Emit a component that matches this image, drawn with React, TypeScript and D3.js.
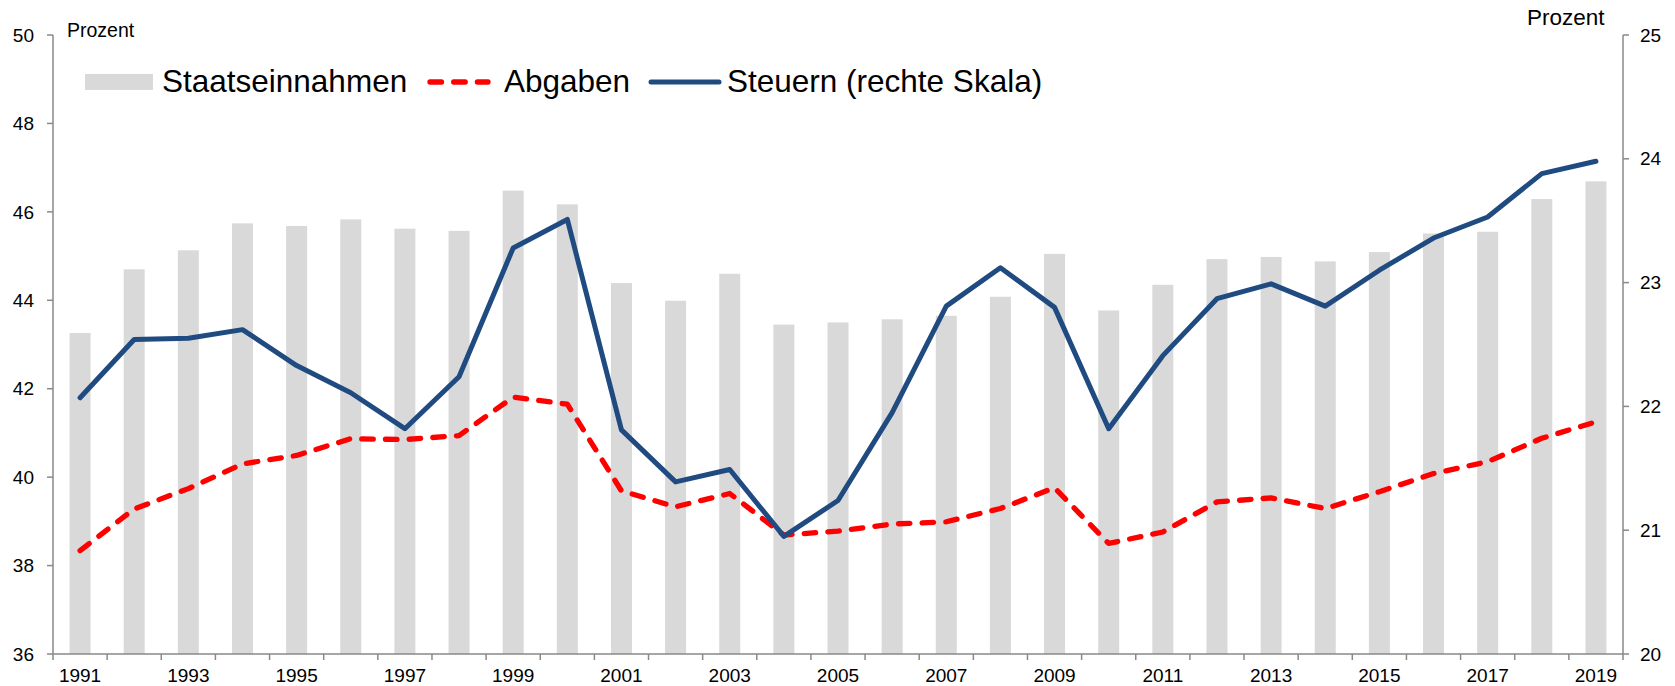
import React from "react";
import * as d3 from "d3";

const years = [
  "1991","1992","1993","1994","1995","1996","1997","1998","1999","2000",
  "2001","2002","2003","2004","2005","2006","2007","2008","2009","2010",
  "2011","2012","2013","2014","2015","2016","2017","2018","2019",
];
const staatseinnahmen = [43.26, 44.70, 45.13, 45.74, 45.68, 45.83, 45.62, 45.57, 46.48, 46.17, 44.39, 43.99, 44.60, 43.45, 43.50, 43.57, 43.65, 44.08, 45.05, 43.77, 44.35, 44.93, 44.98, 44.88, 45.09, 45.51, 45.55, 46.29, 46.69];
const abgaben = [38.34, 39.28, 39.74, 40.30, 40.49, 40.87, 40.85, 40.94, 41.81, 41.65, 39.69, 39.33, 39.63, 38.69, 38.78, 38.94, 38.99, 39.29, 39.76, 38.50, 38.76, 39.44, 39.53, 39.29, 39.67, 40.08, 40.35, 40.88, 41.25];
const steuern = [22.07, 22.54, 22.55, 22.62, 22.33, 22.11, 21.82, 22.24, 23.28, 23.51, 21.81, 21.39, 21.49, 20.95, 21.24, 21.95, 22.81, 23.12, 22.80, 21.82, 22.41, 22.87, 22.99, 22.81, 23.10, 23.36, 23.53, 23.88, 23.98];
const leftTicks = [36, 38, 40, 42, 44, 46, 48, 50];
const rightTicks = [20, 21, 22, 23, 24, 25];
const legendLabels = ["Staatseinnahmen", "Abgaben", "Steuern (rechte Skala)"];
const unitLabel = "Prozent";

const W = 1675, H = 686;
const X0 = 53, X1 = 1623, Y0 = 35, Y1 = 654;
const FONT = "'Liberation Sans', Arial, sans-serif";
const GRAY = "#D9D9D9";
const RED = "#FF0000";
const BLUE = "#1F4B80";
const AXIS = "#898989";

export default function App() {
  const x = d3.scaleBand<string>().domain(years).range([X0, X1]).paddingInner(0).paddingOuter(0);
  const yL = d3.scaleLinear().domain([36, 50]).range([Y1, Y0]);
  const yR = d3.scaleLinear().domain([20, 25]).range([Y1, Y0]);
  const bw = 21;
  const cx = (i: number) => (x(years[i]) as number) + x.bandwidth() / 2;

  const redLine = d3.line<number>().x((_, i) => cx(i)).y((d) => yL(d))(abgaben) as string;
  const blueLine = d3.line<number>().x((_, i) => cx(i)).y((d) => yR(d))(steuern) as string;

  const boundaries = years.map((y) => x(y) as number).concat([X1]);

  return (
    <svg width={W} height={H} style={{ position: "absolute", left: 0, top: 0, background: "#fff" }} fontFamily={FONT}>
      {/* bars */}
      {staatseinnahmen.map((v, i) => (
        <rect key={i} x={cx(i) - bw / 2} y={yL(v)} width={bw} height={yL(36) - yL(v)} fill={GRAY} />
      ))}
      {/* lines */}
      <path d={redLine} fill="none" stroke={RED} strokeWidth={5.3} strokeDasharray="11.5 12.2" strokeLinecap="round" strokeLinejoin="round" />
      <path d={blueLine} fill="none" stroke={BLUE} strokeWidth={5} strokeLinecap="round" strokeLinejoin="round" />

      {/* left axis */}
      <line x1={X0} x2={X0} y1={Y0} y2={Y1} stroke={AXIS} strokeWidth={1.5} />
      {leftTicks.map((t) => (
        <g key={t}>
          <line x1={X0 - 6} x2={X0} y1={yL(t)} y2={yL(t)} stroke={AXIS} strokeWidth={1.5} />
          <text x={34} y={yL(t)} dy="0.35em" textAnchor="end" fontSize={19} fill="#000">{t}</text>
        </g>
      ))}
      {/* right axis */}
      <line x1={X1} x2={X1} y1={Y0} y2={Y1} stroke={AXIS} strokeWidth={1.5} />
      {rightTicks.map((t) => (
        <g key={t}>
          <line x1={X1} x2={X1 + 6} y1={yR(t)} y2={yR(t)} stroke={AXIS} strokeWidth={1.5} />
          <text x={1640} y={yR(t)} dy="0.35em" textAnchor="start" fontSize={19} fill="#000">{t}</text>
        </g>
      ))}
      {/* x axis */}
      <line x1={X0} x2={X1} y1={Y1} y2={Y1} stroke={AXIS} strokeWidth={1.5} />
      {boundaries.map((b, i) => (
        <line key={i} x1={b} x2={b} y1={Y1} y2={Y1 + 6} stroke={AXIS} strokeWidth={1.5} />
      ))}
      {years.map((yr, i) =>
        i % 2 === 0 ? (
          <text key={yr} x={cx(i)} y={681.5} textAnchor="middle" fontSize={19} fill="#000">{yr}</text>
        ) : null
      )}

      {/* unit labels */}
      <text x={67} y={36.5} fontSize={19.5} fill="#000">{unitLabel}</text>
      <text x={1527} y={25} fontSize={22.5} fill="#000">{unitLabel}</text>

      {/* legend */}
      <rect x={85} y={74} width={68} height={16} fill={GRAY} />
      <text x={162} y={92} fontSize={31.5} fill="#000">{legendLabels[0]}</text>
      <line x1={430} x2={488} y1={82} y2={82} stroke={RED} strokeWidth={5.3} strokeDasharray="11.5 12.2" strokeLinecap="round" />
      <text x={504} y={92} fontSize={31.5} fill="#000">{legendLabels[1]}</text>
      <line x1={651} x2={719} y1={82} y2={82} stroke={BLUE} strokeWidth={5} strokeLinecap="round" />
      <text x={727} y={92} fontSize={31.5} fill="#000">{legendLabels[2]}</text>
    </svg>
  );
}
